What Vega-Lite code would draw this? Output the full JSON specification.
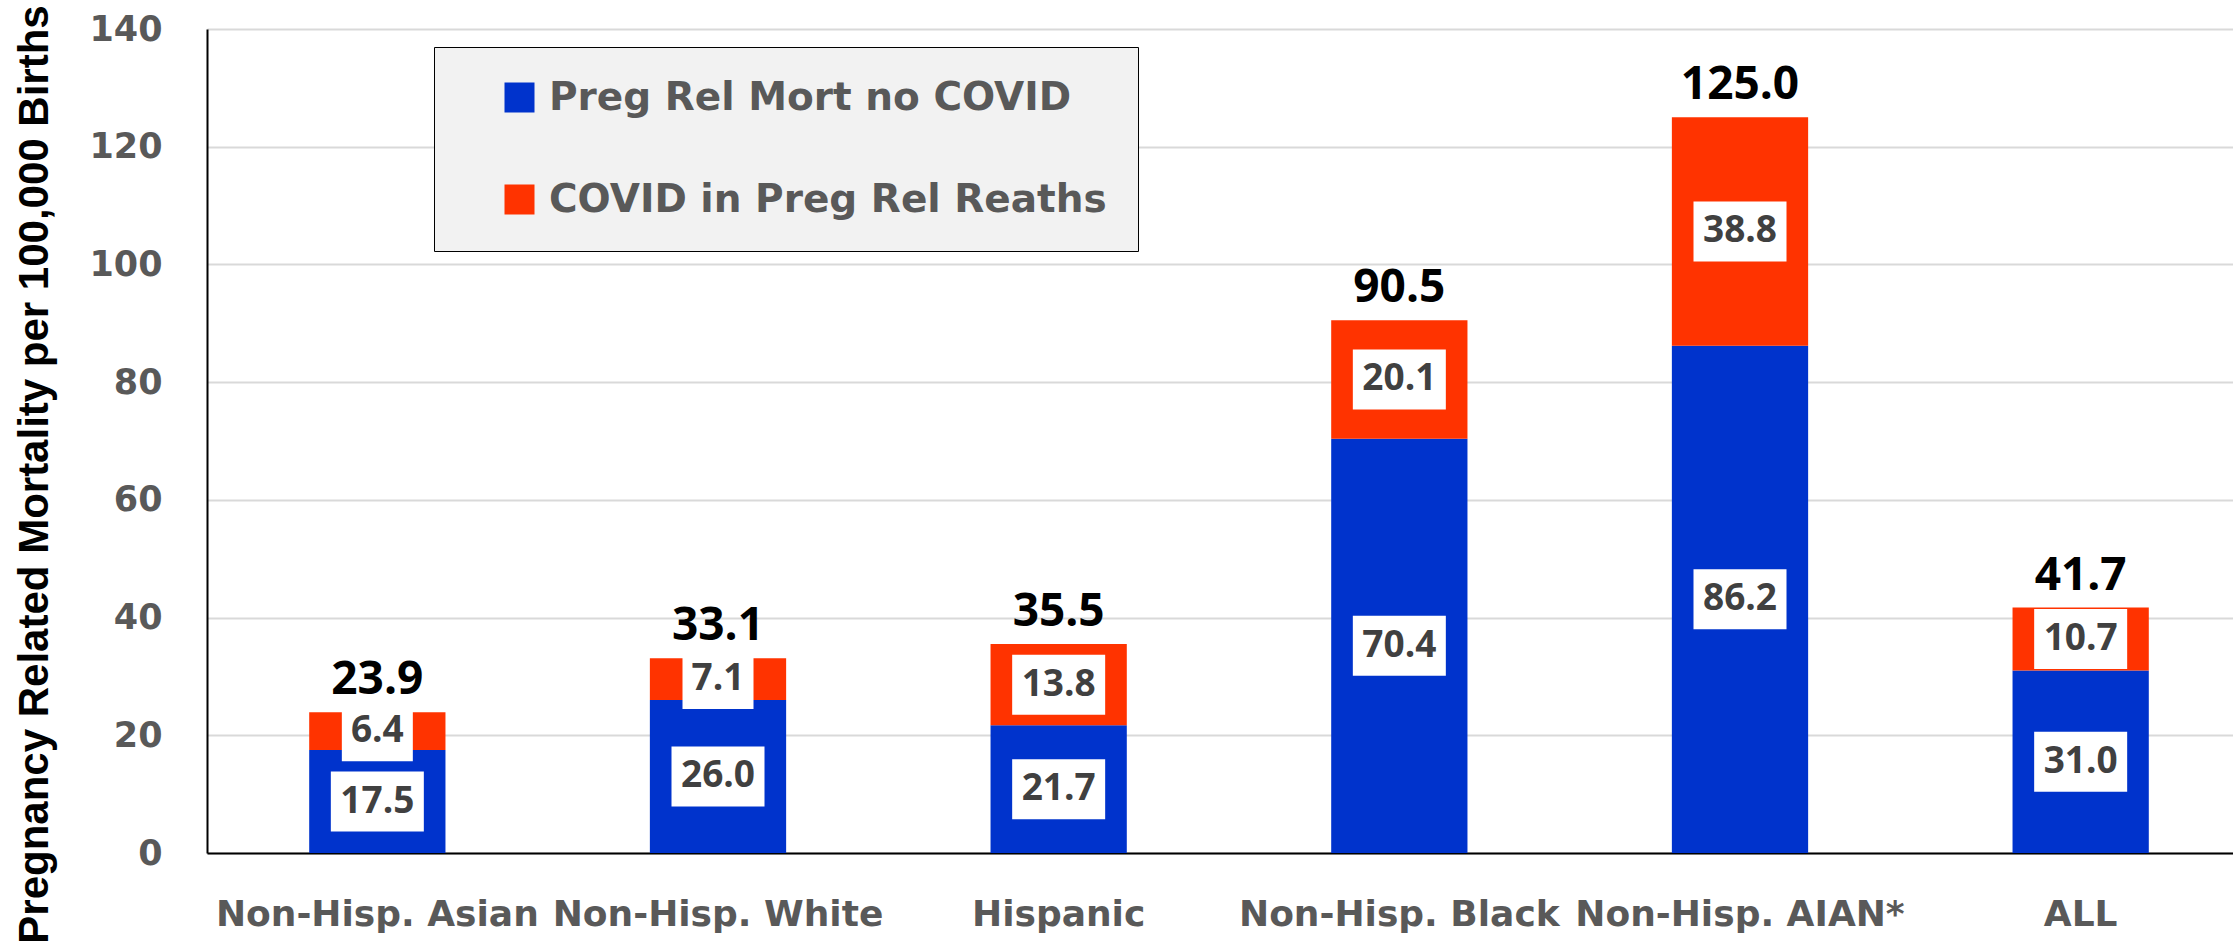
{
  "$schema": "https://vega.github.io/schema/vega-lite/v6.json",
  "width": 2044,
  "height": 824,
  "autosize": {"type": "none"},
  "padding": {"left": 207, "top": 29, "right": 0, "bottom": 95},
  "background": "white",
  "config": {"view": {"stroke": null}},
  "data": {
    "values": [
      {"category": "Non-Hisp. Asian", "series": "Preg Rel Mort no COVID", "value": 17.5},
      {"category": "Non-Hisp. Asian", "series": "COVID in Preg Rel Reaths", "value": 6.4},
      {"category": "Non-Hisp. White", "series": "Preg Rel Mort no COVID", "value": 26.0},
      {"category": "Non-Hisp. White", "series": "COVID in Preg Rel Reaths", "value": 7.1},
      {"category": "Hispanic", "series": "Preg Rel Mort no COVID", "value": 21.7},
      {"category": "Hispanic", "series": "COVID in Preg Rel Reaths", "value": 13.8},
      {"category": "Non-Hisp. Black", "series": "Preg Rel Mort no COVID", "value": 70.4},
      {"category": "Non-Hisp. Black", "series": "COVID in Preg Rel Reaths", "value": 20.1},
      {"category": "Non-Hisp. AIAN*", "series": "Preg Rel Mort no COVID", "value": 86.2},
      {"category": "Non-Hisp. AIAN*", "series": "COVID in Preg Rel Reaths", "value": 38.8},
      {"category": "ALL", "series": "Preg Rel Mort no COVID", "value": 31.0},
      {"category": "ALL", "series": "COVID in Preg Rel Reaths", "value": 10.7}
    ]
  },
  "transform": [
    {"stack": "value", "groupby": ["category"], "sort": [{"field": "series", "order": "descending"}], "as": ["y0", "y1"]},
    {"calculate": "(datum.y0 + datum.y1) / 2", "as": "mid"}
  ],
  "encoding": {
    "x": {
      "field": "category",
      "type": "nominal",
      "sort": ["Non-Hisp. Asian", "Non-Hisp. White", "Hispanic", "Non-Hisp. Black", "Non-Hisp. AIAN*", "ALL"],
      "scale": {"paddingInner": 0.6, "paddingOuter": 0.3},
      "axis": {
        "title": null,
        "labelAngle": 0,
        "labelFont": "DejaVu Sans",
        "labelFontWeight": "bold",
        "labelFontSize": 36,
        "labelColor": "#595959",
        "labelBaseline": "alphabetic",
        "labelPadding": 72,
        "labelLimit": 0,
        "labelOverlap": false,
        "ticks": false,
        "domain": true,
        "domainColor": "#000000",
        "domainWidth": 2,
        "grid": false
      }
    }
  },
  "layer": [
    {
      "mark": {"type": "bar", "strokeWidth": 0},
      "encoding": {
        "y": {
          "field": "y1",
          "type": "quantitative",
          "scale": {"domain": [0, 140], "nice": false, "zero": true},
          "title": "Pregnancy Related Mortality per 100,000 Births",
          "axis": {
            "values": [0, 20, 40, 60, 80, 100, 120, 140],
            "labelFont": "DejaVu Sans",
            "labelFontWeight": "bold",
            "labelFontSize": 35,
            "labelColor": "#595959",
            "labelPadding": 45,
            "ticks": false,
            "domain": true,
            "domainColor": "#000000",
            "domainWidth": 2,
            "grid": true,
            "gridColor": "#d9d9d9",
            "gridWidth": 2,
            "titleFont": "Liberation Sans",
            "titleFontWeight": "bold",
            "titleFontSize": 42,
            "titleColor": "#000000",
            "titleAngle": -90,
            "titleAlign": "center",
            "titleBaseline": "alphabetic",
            "titleX": -160,
            "titleY": 445
          }
        },
        "y2": {"field": "y0"},
        "color": {
          "field": "series",
          "type": "nominal",
          "scale": {
            "domain": ["Preg Rel Mort no COVID", "COVID in Preg Rel Reaths"],
            "range": ["#0033cc", "#ff3300"]
          },
          "legend": {
            "title": null,
            "orient": "none",
            "direction": "vertical",
            "legendX": 227,
            "legendY": 18,
            "padding": 31,
            "fillColor": "#f2f2f2",
            "strokeColor": "#000000",
            "symbolType": "square",
            "symbolSize": 900,
            "symbolStrokeWidth": 0,
            "symbolOpacity": 1,
            "symbolOffset": 35,
            "labelFont": "DejaVu Sans",
            "labelFontWeight": "bold",
            "labelFontSize": 39,
            "labelColor": "#595959",
            "labelOffset": 10,
            "labelLimit": 0,
            "rowPadding": 62
          }
        }
      }
    },
    {
      "mark": {"type": "point", "filled": true, "color": "#ffffff", "opacity": 1, "strokeWidth": 0},
      "encoding": {
        "y": {"field": "mid", "type": "quantitative", "title": "Pregnancy Related Mortality per 100,000 Births"},
        "size": {"value": 4},
        "shape": {
          "condition": {"test": "datum.value >= 10", "value": "M-46.5,-30H46.5V30H-46.5Z"},
          "value": "M-35.5,-30H35.5V30H-35.5Z"
        }
      }
    },
    {
      "mark": {"type": "text", "font": "Open Sans", "fontWeight": "bold", "fontSize": 37, "color": "#404040", "baseline": "middle", "align": "center"},
      "encoding": {
        "y": {"field": "mid", "type": "quantitative", "title": "Pregnancy Related Mortality per 100,000 Births"},
        "text": {"field": "value", "type": "quantitative", "format": ".1f"}
      }
    },
    {
      "transform": [
        {"aggregate": [{"op": "sum", "field": "value", "as": "total"}], "groupby": ["category"]}
      ],
      "mark": {"type": "text", "font": "Open Sans", "fontWeight": "bold", "fontSize": 46, "color": "#000000", "baseline": "alphabetic", "align": "center", "dy": -18},
      "encoding": {
        "y": {"field": "total", "type": "quantitative", "title": "Pregnancy Related Mortality per 100,000 Births"},
        "text": {"field": "total", "type": "quantitative", "format": ".1f"}
      }
    }
  ]
}
